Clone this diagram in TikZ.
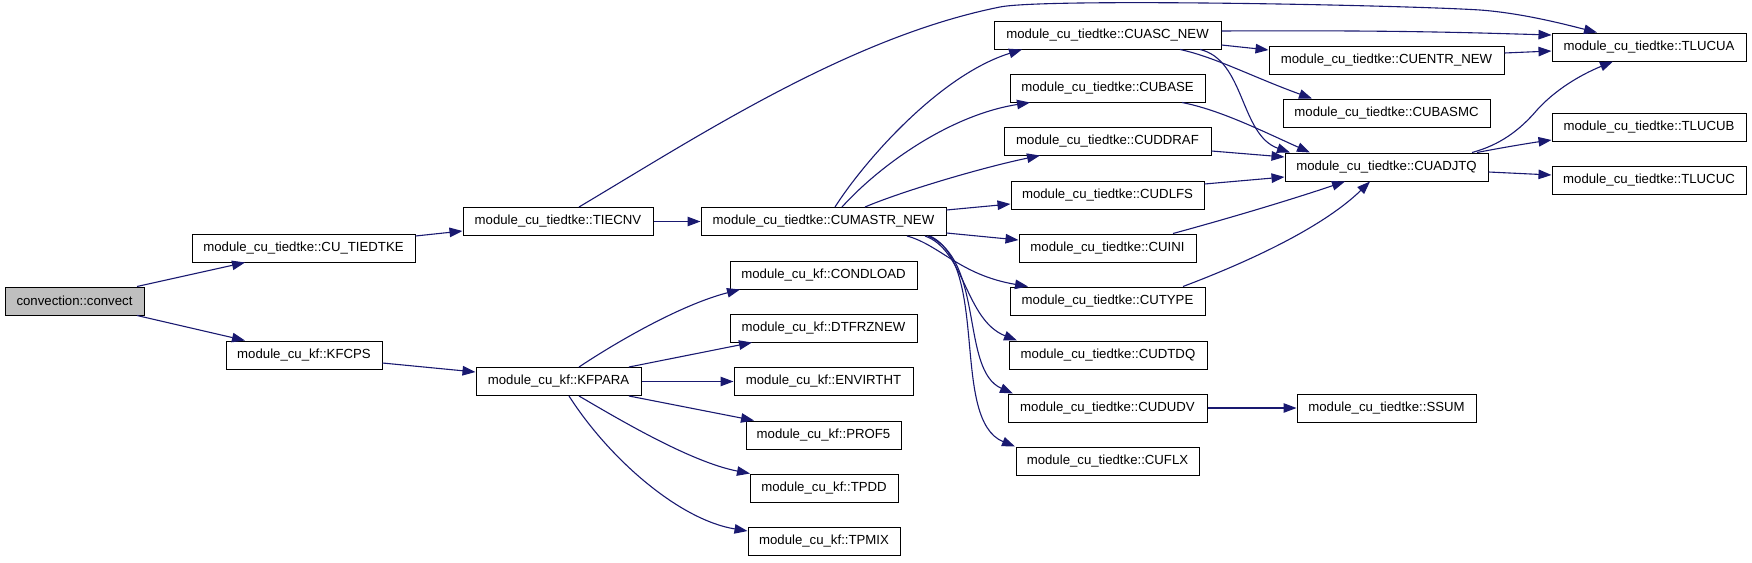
\documentclass[tikz,border=0pt]{standalone}
\usepackage{fontspec}
\setmainfont{Liberation Sans}
\usetikzlibrary{arrows.meta,calc}
\definecolor{edgeblue}{HTML}{191970}
\definecolor{rootgray}{HTML}{BFBFBF}
\begin{document}
\begin{tikzpicture}[x=1pt,y=-1pt,
  box/.style={draw=black, line width=1pt, rectangle, minimum height=28pt, inner sep=0pt,
    fill=white, font=\fontsize{13.2}{15}\selectfont},
  edge/.style={draw=edgeblue, line width=1.1pt, -{Triangle[length=13pt,width=9.5pt]}}]
\useasboundingbox (0,0) rectangle (1752,562);
% column 1
\node[box, fill=rootgray, minimum width=139pt] (convect) at (74.5,301) {convection::convect};
% column 2
\node[box, minimum width=223pt] (cutiedtke) at (303.5,248) {module\_cu\_tiedtke::CU\_TIEDTKE};
\node[box, minimum width=156pt] (kfcps) at (304,355) {module\_cu\_kf::KFCPS};
% column 3
\node[box, minimum width=190pt] (tiecnv) at (558,221.5) {module\_cu\_tiedtke::TIECNV};
\node[box, minimum width=165pt] (kfpara) at (558.5,381.5) {module\_cu\_kf::KFPARA};
% column 4
\node[box, minimum width=245pt] (cumastr) at (823.5,221.5) {module\_cu\_tiedtke::CUMASTR\_NEW};
\node[box, minimum width=187pt] (condload) at (823.5,275) {module\_cu\_kf::CONDLOAD};
\node[box, minimum width=187pt] (dtfrz) at (823.5,328) {module\_cu\_kf::DTFRZNEW};
\node[box, minimum width=179pt] (envir) at (823.5,381.5) {module\_cu\_kf::ENVIRTHT};
\node[box, minimum width=155pt] (prof5) at (823.5,435) {module\_cu\_kf::PROF5};
\node[box, minimum width=148pt] (tpdd) at (824,488) {module\_cu\_kf::TPDD};
\node[box, minimum width=152pt] (tpmix) at (824,541.5) {module\_cu\_kf::TPMIX};
% column 5
\node[box, minimum width=227pt] (cuasc) at (1107.5,35) {module\_cu\_tiedtke::CUASC\_NEW};
\node[box, minimum width=195pt] (cubase) at (1107.5,88) {module\_cu\_tiedtke::CUBASE};
\node[box, minimum width=207pt] (cuddraf) at (1107.5,141) {module\_cu\_tiedtke::CUDDRAF};
\node[box, minimum width=193pt] (cudlfs) at (1107.5,195) {module\_cu\_tiedtke::CUDLFS};
\node[box, minimum width=177pt] (cuini) at (1107.5,248) {module\_cu\_tiedtke::CUINI};
\node[box, minimum width=195pt] (cutype) at (1107.5,301) {module\_cu\_tiedtke::CUTYPE};
\node[box, minimum width=198pt] (cudtdq) at (1108,355) {module\_cu\_tiedtke::CUDTDQ};
\node[box, minimum width=199pt] (cududv) at (1107.5,408) {module\_cu\_tiedtke::CUDUDV};
\node[box, minimum width=183pt] (cuflx) at (1107.5,461) {module\_cu\_tiedtke::CUFLX};
% column 6
\node[box, minimum width=235pt] (cuentr) at (1386.5,60) {module\_cu\_tiedtke::CUENTR\_NEW};
\node[box, minimum width=207pt] (cubasmc) at (1386.5,113) {module\_cu\_tiedtke::CUBASMC};
\node[box, minimum width=203pt] (cuadjtq) at (1386.5,167) {module\_cu\_tiedtke::CUADJTQ};
\node[box, minimum width=179pt] (ssum) at (1386.5,408) {module\_cu\_tiedtke::SSUM};
% column 7
\node[box, minimum width=194pt] (tlucua) at (1649,47) {module\_cu\_tiedtke::TLUCUA};
\node[box, minimum width=194pt] (tlucub) at (1649,127) {module\_cu\_tiedtke::TLUCUB};
\node[box, minimum width=194pt] (tlucuc) at (1649,180) {module\_cu\_tiedtke::TLUCUC};

% edges
\draw[edge] ($(convect.north)+(62.5,0)$) -- ($(cutiedtke.south)+(-58.5,0)$);
\draw[edge] ($(convect.south)+(62.5,0)$) -- ($(kfcps.north)+(-59,0)$);
\draw[edge] ($(cutiedtke.east)+(0,-12)$) -- ($(tiecnv.west)+(0,9.5)$);
\draw[edge] ($(kfcps.east)+(0,8)$) -- ($(kfpara.west)+(0,-9.5)$);
\draw[edge] (tiecnv) -- (cumastr);
\draw[edge] ($(tiecnv.north)+(21,0)$) .. controls (700,135) and (850,37) .. (1000,7)
  .. controls (1045,-2) and (1400,5) .. (1480,10)
  .. controls (1520,13) and (1560,23) .. ($(tlucua.north)+(-52,0)$);
\draw[edge] ($(cumastr.north)+(11.5,0)$) .. controls (865,160) and (940,75) .. ($(cuasc.south)+(-85.5,0)$);
\draw[edge] ($(cumastr.north)+(18.5,0)$) .. controls (880,165) and (950,115) .. ($(cubase.south)+(-77.5,0)$);
\draw[edge] ($(cumastr.north)+(41.5,0)$) .. controls (900,192) and (980,168) .. ($(cuddraf.south)+(-67.5,0)$);
\draw[edge] ($(cumastr.east)+(0,-11.5)$) -- ($(cudlfs.west)+(0,9)$);
\draw[edge] ($(cumastr.east)+(0,11.5)$) -- ($(cuini.west)+(0,-8)$);
\draw[edge] ($(cumastr.south)+(83.5,0)$) .. controls (940,245) and (960,275) .. ($(cutype.north)+(-79.5,0)$);
\draw[edge] ($(cumastr.south)+(101.5,0)$) .. controls (965,250) and (965,320) .. ($(cudtdq.north)+(-91,0)$);
\draw[edge] ($(cumastr.south)+(104.5,0)$) .. controls (985,260) and (960,370) .. ($(cududv.north)+(-94.5,0)$);
\draw[edge] ($(cumastr.south)+(106.5,0)$) .. controls (990,265) and (950,420) .. ($(cuflx.north)+(-92.5,0)$);
\draw[edge] ($(cuasc.east)+(0,-4)$) .. controls (1400,30) and (1480,33) .. ($(tlucua.west)+(0,-12)$);
\draw[edge] ($(cuasc.east)+(0,10)$) -- ($(cuentr.west)+(0,-10)$);
\draw[edge] ($(cuasc.south)+(72.5,0)$) .. controls (1215,57) and (1255,78) .. ($(cubasmc.north)+(-74.5,0)$);
\draw[edge] ($(cuasc.south)+(92.5,0)$) .. controls (1245,60) and (1240,135) .. ($(cuadjtq.north)+(-96.5,0)$);
\draw[edge] ($(cubase.south)+(74.5,0)$) .. controls (1220,110) and (1260,130) .. ($(cuadjtq.north)+(-76.5,0)$);
\draw[edge] ($(cuddraf.east)+(0,10)$) -- ($(cuadjtq.west)+(0,-10)$);
\draw[edge] ($(cudlfs.east)+(0,-11)$) -- ($(cuadjtq.west)+(0,10)$);
\draw[edge] ($(cuini.north)+(65.5,0)$) .. controls (1230,218) and (1290,200) .. ($(cuadjtq.south)+(-41.5,0)$);
\draw[edge] ($(cutype.north)+(75.5,0)$) .. controls (1240,265) and (1320,230) .. ($(cuadjtq.south)+(-16.5,0)$);
\draw[edge] ($(cuentr.east)+(0,-7)$) -- ($(tlucua.west)+(0,4)$);
\draw[edge] ($(cuadjtq.north)+(85.5,0)$) .. controls (1500,145) and (1520,130) .. (1537,110)
  .. controls (1555,90) and (1580,75) .. ($(tlucua.south)+(-36,0)$);
\draw[edge] ($(cuadjtq.north)+(90.5,0)$) .. controls (1500,148) and (1530,143) .. ($(tlucub.west)+(0,13)$);
\draw[edge] ($(cuadjtq.east)+(0,5)$) -- ($(tlucuc.west)+(0,-5)$);
\draw[edge] (cududv) -- (ssum);
\draw[edge] ($(kfpara.north)+(20.5,0)$) .. controls (615,343) and (680,305) .. ($(condload.south)+(-83.5,0)$);
\draw[edge] ($(kfpara.north)+(70.5,0)$) -- ($(dtfrz.south)+(-71.5,0)$);
\draw[edge] (kfpara) -- (envir);
\draw[edge] ($(kfpara.south)+(70.5,0)$) -- ($(prof5.north)+(-69.5,0)$);
\draw[edge] ($(kfpara.south)+(20.5,0)$) .. controls (615,417) and (690,462) .. ($(tpdd.north)+(-74,0)$);
\draw[edge] ($(kfpara.south)+(10.5,0)$) .. controls (610,460) and (680,520) .. ($(tpmix.west)+(0,-10.5)$);
\end{tikzpicture}
\end{document}
